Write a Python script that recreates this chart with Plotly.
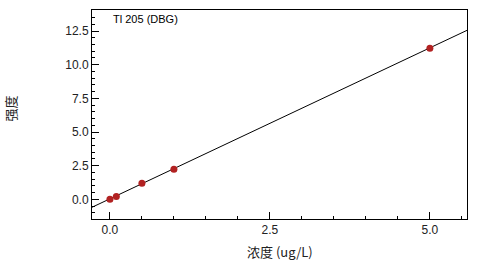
import plotly.graph_objects as go

# Data
conc = [0.0, 0.1, 0.5, 1.0, 5.0]
intensity = [0.0, 0.22, 1.19, 2.23, 11.22]
fit_x = [-0.28, 5.58]
fit_y = [-0.59, 12.55]

x_tickvals = [0.0, 2.5, 5.0]
x_ticktext = ["0.0", "2.5", "5.0"]
y_tickvals = [0.0, 2.5, 5.0, 7.5, 10.0, 12.5]
y_ticktext = ["0.0", "2.5", "5.0", "7.5", "10.0", "12.5"]

fig = go.Figure()
fig.add_trace(go.Scatter(x=fit_x, y=fit_y, mode="lines",
                         line=dict(color="black", width=1), showlegend=False))
fig.add_trace(go.Scatter(x=conc, y=intensity, mode="markers",
                         marker=dict(color="#B22222", size=7), showlegend=False))

font = "Liberation Sans, Arial, sans-serif"
axis_common = dict(showline=True, linecolor="black", linewidth=1, mirror=True,
                   showgrid=False, zeroline=False, ticks="inside", ticklen=7,
                   tickcolor="black", tickfont=dict(family=font, size=12, color="#222"))

fig.update_xaxes(range=[-0.28, 5.58], tickvals=x_tickvals, ticktext=x_ticktext,
                 minor=dict(dtick=0.5, tick0=0, ticks="inside", ticklen=3, tickcolor="black"),
                 **axis_common)
fig.update_yaxes(range=[-1.46, 14.06], tickvals=y_tickvals, ticktext=y_ticktext,
                 minor=dict(dtick=0.5, tick0=0, ticks="inside", ticklen=3, tickcolor="black"),
                 **axis_common)

fig.add_annotation(text="Tl 205 (DBG)", xref="paper", yref="paper", x=0.05, y=0.955,
                   xanchor="left", yanchor="middle", showarrow=False,
                   font=dict(family=font, size=11, color="black"))
fig.add_annotation(text="浓度 (ug/L)", xref="paper", yref="paper", x=0.5, y=-0.155,
                   xanchor="center", yanchor="middle", showarrow=False,
                   font=dict(family="Noto Sans CJK SC, sans-serif", size=13, color="#222"))
fig.add_annotation(text="强度", xref="paper", yref="paper", x=-0.218, y=0.53,
                   xanchor="center", yanchor="middle", showarrow=False, textangle=-90,
                   font=dict(family="Noto Sans CJK SC, sans-serif", size=13, color="#222"))

fig.update_layout(width=478, height=267, margin=dict(l=92, r=11, t=10, b=48),
                  plot_bgcolor="white", paper_bgcolor="white")
fig.write_html("out.html")
